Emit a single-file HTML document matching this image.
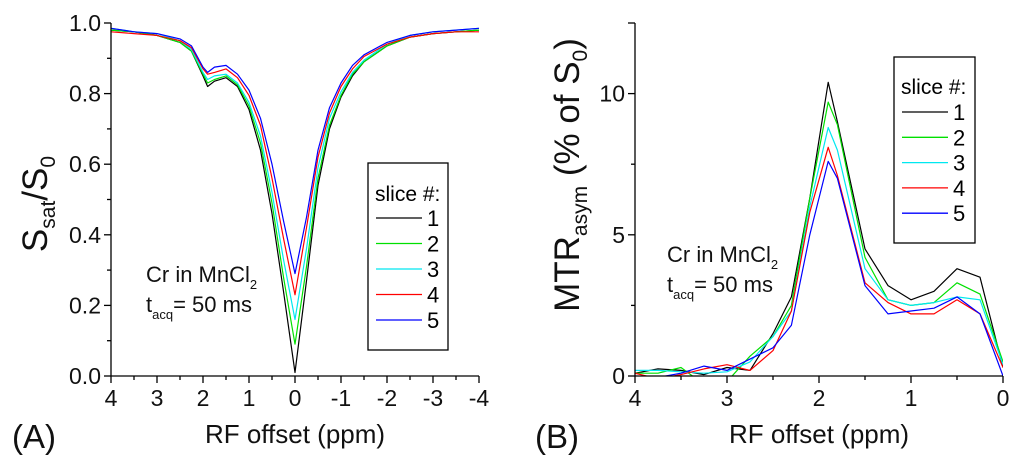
<!DOCTYPE html>
<html><head><meta charset="utf-8"><style>
body{margin:0;background:#fff;}
svg{display:block;font-family:"Liberation Sans",Arial,sans-serif;}
</style></head><body>
<svg id="fig" width="1024" height="460" viewBox="0 0 1024 460">
<g id="pa"></g>
<g id="pb"></g>
</svg>
<script>
const colors = ["#000000","#00e000","#00e8f0","#ff0000","#0000ff"];
const seriesNames = ["1","2","3","4","5"];
// Panel A data
const offsetsA = [4,3.5,3,2.5,2.25,2,1.9,1.75,1.5,1.25,1,0.75,0.5,0.25,0,-0.25,-0.5,-0.75,-1,-1.25,-1.5,-2,-2.5,-3,-3.5,-4];
const sA1 = [.98,.975,.965,.945,.92,.85,.82,.835,.845,.82,.755,.64,.46,.24,.01,.27,.54,.70,.79,.85,.89,.935,.96,.97,.975,.98];
const sA2 = [.98,.975,.965,.945,.92,.855,.83,.84,.85,.825,.765,.66,.49,.28,.09,.31,.56,.71,.795,.855,.89,.935,.96,.97,.975,.98];
const sA3 = [.985,.975,.97,.95,.925,.86,.84,.85,.855,.83,.775,.68,.52,.33,.16,.36,.59,.73,.805,.86,.895,.94,.965,.975,.98,.985];
const sA4 = [.975,.97,.965,.95,.93,.87,.855,.86,.87,.845,.795,.71,.56,.39,.23,.42,.62,.745,.82,.87,.905,.94,.96,.97,.975,.975];
const sA5 = [.985,.975,.97,.955,.935,.875,.86,.875,.88,.855,.81,.73,.60,.44,.29,.45,.64,.76,.83,.88,.91,.945,.965,.975,.98,.985];
const xTicksA = ["4","3","2","1","0","-1","-2","-3","-4"];
const yTicksA = ["0.0","0.2","0.4","0.6","0.8","1.0"];
// Panel B data
const offsetsB = [4,3.75,3.5,3.25,3,2.75,2.5,2.3,2.1,1.9,1.8,1.5,1.25,1,0.75,0.5,0.25,0];
const sB1 = [0.1,0.25,0.2,0.05,0.3,0.2,1.5,2.8,6.3,10.4,9.0,4.5,3.2,2.7,3.0,3.8,3.5,0.3];
const sB2 = [0.1,0.1,0.3,-0.3,-0.2,0.7,1.4,2.5,6.3,9.7,8.9,4.2,2.7,2.5,2.6,3.3,2.9,0.5];
const sB3 = [0.2,0.2,0.15,0.1,0.15,0.5,1.4,2.3,6.0,8.8,8.0,3.8,2.7,2.5,2.6,2.8,2.7,0.4];
const sB4 = [0.1,-0.1,0.05,0.25,0.4,0.2,0.9,2.3,5.8,8.1,7.1,3.3,2.6,2.2,2.2,2.7,2.2,0.3];
const sB5 = [0.0,-0.05,0.1,0.35,0.2,0.6,1.0,1.8,5.0,7.6,7.0,3.2,2.2,2.3,2.4,2.8,2.2,0.0];
const xTicksB = ["4","3","2","1","0"];
const yTicksB = ["0","5","10"];

const NS="http://www.w3.org/2000/svg";
function mk(parent,tag,attrs,text){const e=document.createElementNS(NS,tag);for(const k in attrs)e.setAttribute(k,attrs[k]);if(text!==undefined)e.textContent=text;parent.appendChild(e);return e;}

function panel(g,cfg){
  const L=cfg.L,R=cfg.R,T=cfg.T,B=cfg.B;
  const sx=v=>L+(cfg.x0-v)/(cfg.x0-cfg.x1)*(R-L);
  const sy=v=>B-(v-cfg.y0)/(cfg.y1-cfg.y0)*(B-T);
  const cid="clip"+cfg.id;
  const cp=mk(g,"clipPath",{id:cid});mk(cp,"rect",{x:L,y:T,width:R-L,height:B-T});
  const series=mk(g,"g",{"clip-path":"url(#"+cid+")"});
  
  
  cfg.series.forEach((s,i)=>{
    const pts=s.map((v,j)=>sx(cfg.xs[j]).toFixed(1)+","+sy(v).toFixed(1)).join(" ");
    const pl=mk(series,"polyline",{points:pts,fill:"none",stroke:colors[i],"stroke-width":1.2,"stroke-linejoin":"round"});
    
    
  });
  const ax=mk(g,"g",{stroke:"#000","stroke-width":1.3});
  
  
  mk(ax,"line",{x1:L,y1:T,x2:L,y2:B});
  mk(ax,"line",{x1:L,y1:B,x2:R,y2:B});
  cfg.xTicks.forEach(t=>{
    const v=parseFloat(t),x=sx(v);
    mk(ax,"line",{x1:x,y1:B,x2:x,y2:B+7});
    const tx=mk(g,"text",{x:x,y:B+30,"font-size":23,"text-anchor":"middle",fill:"#111"},t);
    
    
  });
  for(let v=cfg.x0;v>cfg.x1;v-=cfg.xStep){const x=sx(v-cfg.xStep/2);mk(ax,"line",{x1:x,y1:B,x2:x,y2:B+4});}
  cfg.yTicks.forEach(t=>{
    const v=parseFloat(t),y=sy(v);
    mk(ax,"line",{x1:L,y1:y,x2:L-7,y2:y});
    const tx=mk(g,"text",{x:L-10,y:y+8,"font-size":23,"text-anchor":"end",fill:"#111"},t);
    
    
  });
  for(let v=cfg.y0+cfg.yMinor;v<cfg.y1;v+=cfg.yMinor*2){const y=sy(v);mk(ax,"line",{x1:L,y1:y,x2:L-4,y2:y});}
  if(cfg.yTop){mk(ax,"line",{x1:L,y1:T,x2:L-7,y2:T});}
  const lg=mk(g,"g",{});
  
  
  const lb=cfg.leg;
  mk(lg,"rect",{x:lb.x,y:lb.y,width:lb.w,height:lb.h,fill:"#fff",stroke:"#000","stroke-width":1.3});
  mk(lg,"text",{x:lb.x+7,y:lb.ty,"font-size":21,fill:"#000"},"slice #:");
  seriesNames.forEach((n,i)=>{
    const y=lb.ly+i*lb.dy;
    const e=mk(lg,"g",{});
    
    
    mk(e,"line",{x1:lb.x+8,y1:y,x2:lb.x+54,y2:y,stroke:colors[i],"stroke-width":1.3});
    mk(e,"text",{x:lb.x+59,y:y+8,"font-size":22,fill:"#000"},n);
  });
  const an=mk(g,"g",{fill:"#111"});
  
  
  const t1=mk(an,"text",{x:cfg.ann.x,y:cfg.ann.y,"font-size":22});
  t1.innerHTML='Cr in MnCl<tspan font-size="13" dy="7">2</tspan>';
  const t2=mk(an,"text",{x:cfg.ann.x,y:cfg.ann.y+30,"font-size":22});
  t2.innerHTML='t<tspan font-size="13" dy="7">acq</tspan><tspan dy="-7">= 50 ms</tspan>';
  const xl=mk(g,"text",{x:(L+R)/2,y:443,"font-size":26,"text-anchor":"middle",fill:"#111"},"RF offset (ppm)");
  
  
  const pl=mk(g,"text",{x:cfg.plx,y:448,"font-size":33,fill:"#111"},cfg.plabel);
  
  
  const yl=mk(g,"text",{transform:"translate("+cfg.yt.x+","+cfg.yt.y+") rotate(-90)","font-size":35,"text-anchor":"middle",fill:"#111"});
  yl.innerHTML=cfg.yt.html;
  
  
}
panel(document.getElementById("pa"),{id:"a",L:111,R:479,T:23,B:376,x0:4,x1:-4,xStep:1,y0:0,y1:1,yMinor:0.1,
  xs:offsetsA,series:[sA1,sA2,sA3,sA4,sA5],xTicks:xTicksA,yTicks:yTicksA,
  leg:{x:368,y:163,w:80,h:187,ty:201,ly:218,dy:25.5},ann:{x:146,y:282},plx:12,plabel:"(A)",
  yt:{x:47,y:204,html:'S<tspan font-size="21" dy="8">sat</tspan><tspan dy="-8">/S</tspan><tspan font-size="21" dy="8">0</tspan>'}});
panel(document.getElementById("pb"),{id:"b",L:635,R:1003,T:23,B:376,x0:4,x1:0,xStep:1,y0:0,y1:12.5,yMinor:2.5,yTop:true,
  xs:offsetsB,series:[sB1,sB2,sB3,sB4,sB5],xTicks:xTicksB,yTicks:yTicksB,
  leg:{x:894,y:57,w:81,h:186,ty:94,ly:112,dy:25.3},ann:{x:667,y:262},plx:535,plabel:"(B)",
  yt:{x:579,y:175,html:'MTR<tspan font-size="21" dy="8">asym</tspan><tspan dy="-8"> (% of S</tspan><tspan font-size="21" dy="8">0</tspan><tspan dy="-8">)</tspan>'}});
</script>
</body></html>
